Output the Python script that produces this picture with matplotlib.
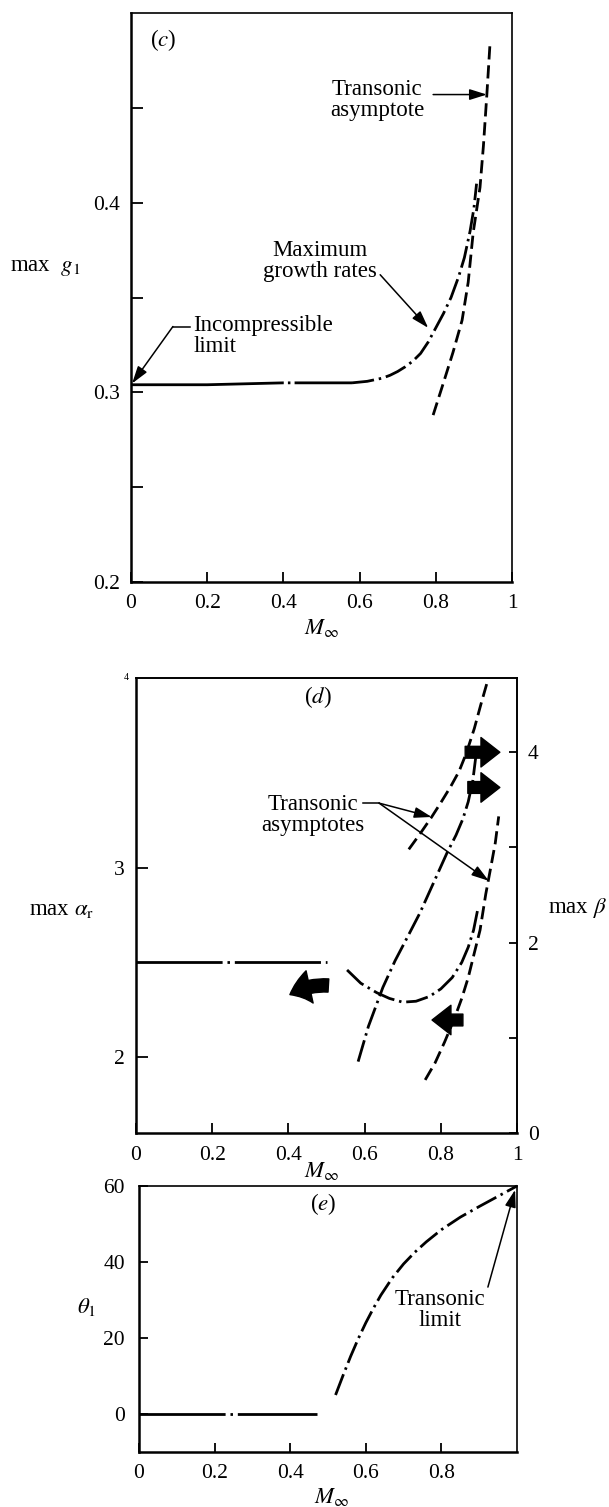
import numpy as np
import matplotlib
matplotlib.use("Agg")
import matplotlib.pyplot as plt

plt.rcParams["font.family"] = ["Liberation Serif", "DejaVu Serif"]
plt.rcParams["mathtext.fontset"] = "stix"
plt.rcParams["font.size"] = 15.5
plt.rcParams["lines.scale_dashes"] = False

# ---------------- (c) maximum growth rate g1 ----------------
mach_growth = [0.0, 0.1, 0.2, 0.3, 0.4, 0.5, 0.58, 0.62, 0.66, 0.68, 0.70, 0.72,
               0.74, 0.76, 0.78, 0.80, 0.82, 0.84, 0.86, 0.875, 0.89, 0.90, 0.907]
growth_max = [0.304, 0.304, 0.304, 0.3045, 0.305, 0.305, 0.305, 0.3058, 0.3075,
              0.309, 0.311, 0.3135, 0.3165, 0.3205, 0.3265, 0.334, 0.3415, 0.350,
              0.361, 0.371, 0.385, 0.397, 0.410]
mach_growth_asym = [0.793, 0.82, 0.845, 0.869, 0.885, 0.898, 0.916, 0.925, 0.934, 0.942]
growth_asym = [0.288, 0.305, 0.321, 0.338, 0.358, 0.384, 0.408, 0.430, 0.457, 0.483]

# ---------------- (d) wavenumbers alpha_r and beta ----------------
mach_alpha_flat = [0.0, 0.5]
alpha_flat = [2.5, 2.5]
mach_alpha = [0.554, 0.59, 0.632, 0.665, 0.70, 0.735, 0.77, 0.80, 0.83, 0.855,
              0.872, 0.886, 0.897]
alpha_max = [2.46, 2.39, 2.34, 2.31, 2.29, 2.295, 2.32, 2.36, 2.42, 2.50, 2.58,
             2.67, 2.78]
mach_alpha_asym = [0.759, 0.785, 0.81, 0.835, 0.855, 0.872, 0.888, 0.903, 0.918,
                   0.932, 0.943, 0.952]
alpha_asym = [1.88, 1.97, 2.08, 2.20, 2.31, 2.42, 2.55, 2.67, 2.86, 3.01, 3.13, 3.27]
mach_beta = [0.583, 0.61, 0.648, 0.68, 0.714, 0.745, 0.78, 0.816, 0.84, 0.858,
             0.872, 0.884, 0.893]
beta_max = [0.75, 1.12, 1.53, 1.81, 2.07, 2.31, 2.62, 2.94, 3.13, 3.30, 3.48, 3.70, 3.99]
mach_beta_asym = [0.716, 0.745, 0.776, 0.80, 0.826, 0.848, 0.867, 0.888, 0.905, 0.925]
beta_asym = [2.98, 3.14, 3.32, 3.47, 3.64, 3.80, 3.99, 4.25, 4.50, 4.78]

# ---------------- (e) wave angle theta_1 ----------------
mach_theta_flat = [0.0, 0.47]
theta_flat = [0.0, 0.0]
mach_theta = [0.52, 0.54, 0.56, 0.58, 0.60, 0.62, 0.64, 0.67, 0.70, 0.73, 0.76,
              0.80, 0.85, 0.90, 0.95, 1.0]
theta_1 = [5, 10.2, 15.2, 19.8, 24.0, 27.8, 31.3, 35.8, 39.5, 42.6, 45.3, 48.5,
           51.8, 54.6, 57.3, 60]

mach_ticks = [0, 0.2, 0.4, 0.6, 0.8, 1]
mach_ticklabels = ["0", "0.2", "0.4", "0.6", "0.8", "1"]

W, H = 609, 1507
fig = plt.figure(figsize=(W / 100, H / 100), dpi=100)


def box(left, top, right, bottom):
    return [left / W, 1 - bottom / H, (right - left) / W, (bottom - top) / H]


def ftext(x, y, s, **kw):
    fig.text(x / W, 1 - y / H, s, **kw)


LW = 2.0
NOTE = 16.5
DASHDOT = (16, 3.5, 1.8, 3.5)
LONG_DASHDOT = (62, 3.5, 1.8, 3.5)
FLAT_C = (110, 3.0, 1.8, 3.0)
DASHED = (9.5, 4.2)
THIN_ARROW = dict(arrowstyle="-|>,head_length=0.7,head_width=0.22", lw=1.1,
                  color="k", shrinkA=0, shrinkB=0, mutation_scale=15)
BLOCK = "simple,head_length=0.8,head_width=1.25,tail_width=0.5"


def style_axes(ax, ylen=8.5, xlen=7.5):
    for side in ("left", "bottom"):
        ax.spines[side].set_linewidth(1.8)
    for side in ("top", "right"):
        ax.spines[side].set_linewidth(1.2)
    ax.tick_params(axis="y", direction="in", length=ylen, width=1.3, pad=8,
                   right=False)
    ax.tick_params(axis="x", direction="in", length=xlen, width=1.3, pad=9,
                   top=False)


# ======================= panel (c) =======================
ax = fig.add_axes(box(131, 13, 512, 582))
ax.set_xlim(0, 1)
ax.set_ylim(0.2, 0.5)
style_axes(ax)
ax.set_xticks(mach_ticks)
ax.set_xticklabels(mach_ticklabels)
ax.set_yticks([0.2, 0.25, 0.3, 0.35, 0.4, 0.45])
ax.set_yticklabels(["0.2", "", "0.3", "", "0.4", ""])

mg = np.array(mach_growth)
gm = np.array(growth_max)
flat = mg <= 0.58
rise = mg >= 0.58
ax.plot(mg[flat], gm[flat], color="k", lw=LW, dashes=FLAT_C)
ax.plot(mg[rise], gm[rise], color="k", lw=LW, dashes=DASHDOT)
ax.plot(mach_growth_asym, growth_asym, color="k", lw=LW, dashes=DASHED)

ax.text(0.084, 0.486, "($c$)", ha="center", va="center", fontsize=NOTE)
ax.text(0.646, 0.454, "Transonic\nasymptote", ha="center", va="center",
        linespacing=1.0, fontsize=NOTE)
ax.annotate("", xy=(0.934, 0.457), xytext=(0.793, 0.457), arrowprops=THIN_ARROW)
ax.text(0.496, 0.3695, "Maximum\ngrowth rates", ha="center", va="center",
        linespacing=1.0, fontsize=NOTE)
ax.annotate("", xy=(0.78, 0.334), xytext=(0.654, 0.362), arrowprops=THIN_ARROW)
ax.text(0.163, 0.3297, "Incompressible\nlimit", ha="left", va="center",
        linespacing=1.0, fontsize=NOTE)
ax.plot([0.155, 0.11], [0.3347, 0.3347], color="k", lw=1.1)
ax.annotate("", xy=(0.003, 0.3047), xytext=(0.11, 0.3347), arrowprops=THIN_ARROW)

ftext(10, 267, "max  $g_1$", ha="left", va="center", fontsize=NOTE)
ftext(322, 628, "$M_\\infty$", ha="center", va="center", fontsize=NOTE)

# ======================= panel (d) =======================
ax = fig.add_axes(box(136, 678, 517, 1133))
ax.set_xlim(0, 1)
ax.set_ylim(1.6, 4.0)
style_axes(ax)
ax.set_xticks(mach_ticks)
ax.set_xticklabels(mach_ticklabels)
ax.set_yticks([2, 3])
ax.set_yticklabels(["2", "3"])

ax2 = ax.twinx()
ax2.set_ylim(0, 4.78)
ax2.spines["right"].set_linewidth(1.2)
ax2.spines["top"].set_linewidth(1.2)
ax2.spines["left"].set_visible(False)
ax2.spines["bottom"].set_visible(False)
ax2.set_yticks([0, 1, 2, 3, 4])
ax2.set_yticklabels(["0", "", "2", "", "4"])
ax2.tick_params(axis="y", direction="in", length=6, width=1.3, pad=8)

ax.plot(mach_alpha_flat, alpha_flat, color="k", lw=LW, dashes=LONG_DASHDOT)
ax.plot(mach_alpha, alpha_max, color="k", lw=LW, dashes=DASHDOT)
ax.plot(mach_alpha_asym, alpha_asym, color="k", lw=LW, dashes=DASHED)
ax2.plot(mach_beta, beta_max, color="k", lw=LW, dashes=DASHDOT)
ax2.plot(mach_beta_asym, beta_asym, color="k", lw=LW, dashes=DASHED)

ax.text(0.477, 3.9, "($d$)", ha="center", va="center", fontsize=NOTE)
ax.text(0.465, 3.28, "Transonic\nasymptotes", ha="center", va="center",
        linespacing=1.0, fontsize=NOTE)
ax.plot([0.596, 0.638], [3.34, 3.34], color="k", lw=1.1)
ax.annotate("", xy=(0.776, 3.32), xycoords=ax2.transData,
            xytext=(0.638, 3.34), textcoords=ax.transData, arrowprops=THIN_ARROW)
ax.annotate("", xy=(0.926, 2.93), xytext=(0.638, 3.34), arrowprops=THIN_ARROW)

# bold arrows pointing to the axis each curve is read against
block = dict(arrowstyle=BLOCK, fc="k", ec="k", shrinkA=0, shrinkB=0,
             mutation_scale=17)
ax2.annotate("", xy=(0.955, 4.0), xytext=(0.864, 4.0), arrowprops=block)
ax2.annotate("", xy=(0.955, 3.63), xytext=(0.871, 3.63), arrowprops=block)
ax.annotate("", xy=(0.777, 2.196), xytext=(0.858, 2.196), arrowprops=block)
ax.annotate("", xy=(0.404, 2.33), xytext=(0.505, 2.378),
            arrowprops=dict(block, mutation_scale=19,
                            connectionstyle="arc3,rad=0.15"))

ftext(126, 677, "4", ha="center", va="center", fontsize=7)
ftext(29, 910, "max $\\alpha_\\mathrm{r}$", ha="left", va="center", fontsize=NOTE)
ftext(548, 908, "max $\\beta$", ha="left", va="center", fontsize=NOTE)
ftext(322, 1171, "$M_\\infty$", ha="center", va="center", fontsize=NOTE)

# ======================= panel (e) =======================
ax = fig.add_axes(box(139, 1186, 517, 1452))
ax.set_xlim(0, 1)
ax.set_ylim(-10, 60)
style_axes(ax, ylen=6.5, xlen=6.5)
ax.set_xticks([0, 0.2, 0.4, 0.6, 0.8])
ax.set_xticklabels(["0", "0.2", "0.4", "0.6", "0.8"])
ax.set_yticks([0, 20, 40, 60])
ax.set_yticklabels(["0", "20", "40", "60"])
ax.tick_params(axis="y", pad=10)

ax.plot(mach_theta_flat, theta_flat, color="k", lw=LW, dashes=LONG_DASHDOT)
ax.plot(mach_theta, theta_1, color="k", lw=LW, dashes=DASHDOT, clip_on=False)

ax.text(0.487, 55.2, "($e$)", ha="center", va="center", fontsize=NOTE)
ax.text(0.796, 27.3, "Transonic\nlimit", ha="center", va="center",
        linespacing=1.0, fontsize=NOTE)
ax.annotate("", xy=(0.995, 59.0), xytext=(0.923, 33.4), arrowprops=THIN_ARROW)

ftext(77, 1307, "$\\theta_1$", ha="left", va="center", fontsize=NOTE)
ftext(332, 1497, "$M_\\infty$", ha="center", va="center", fontsize=NOTE)

fig.savefig("out.png", dpi=100)
